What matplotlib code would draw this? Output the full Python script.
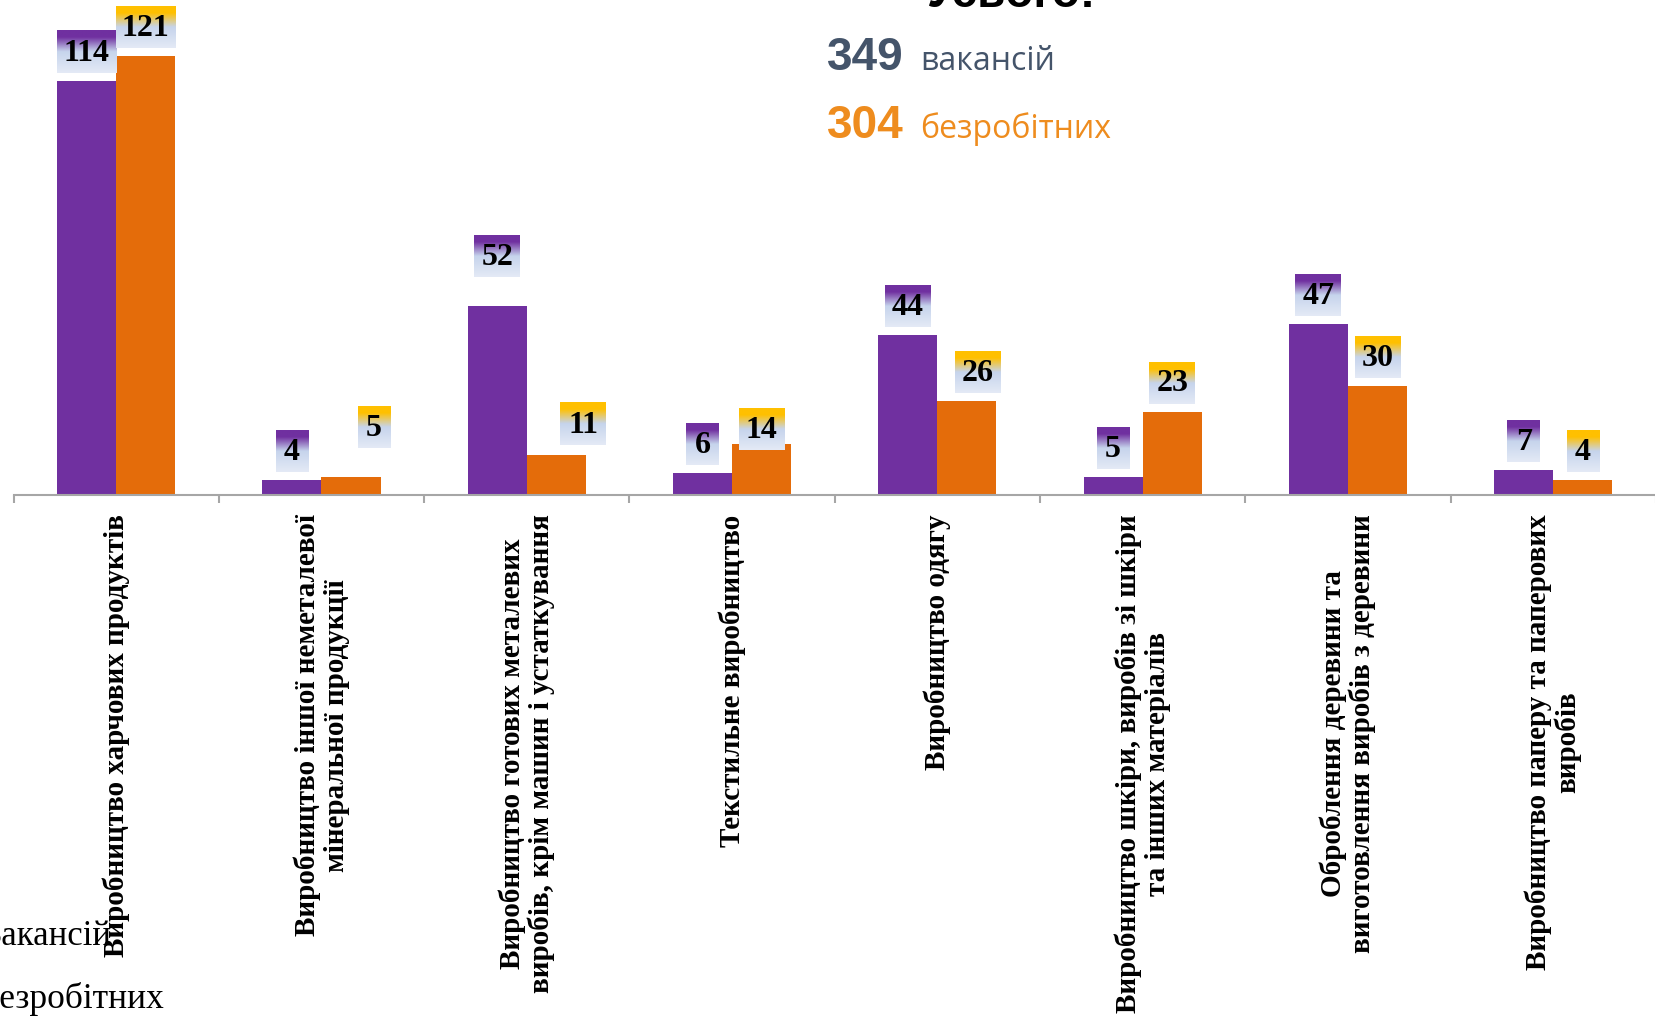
import numpy as np
import matplotlib
matplotlib.use("Agg")
import matplotlib.pyplot as plt
from matplotlib.colors import LinearSegmentedColormap

# ---------------- data ----------------
categories = [
    "Виробництво харчових продуктів",
    "Виробництво іншої неметалевої\nмінеральної продукції",
    "Виробництво готових металевих\nвиробів, крім машин і устаткування",
    "Текстильне виробництво",
    "Виробництво одягу",
    "Виробництво шкіри, виробів зі шкіри\nта інших матеріалів",
    "Оброблення деревини та\nвиготовлення виробів з деревини",
    "Виробництво паперу та паперових\nвиробів",
]
vacancies = [114, 4, 52, 6, 44, 5, 47, 7]
unemployed = [121, 5, 11, 14, 26, 23, 30, 4]
series_names = ["Вакансій", "Безробітних"]
total_title = "Усього:"
total_vacancies = 349
total_unemployed = 304
total_words = ["вакансій", "безробітних"]

# ---------------- layout ----------------
W, H = 1655, 1016
fig = plt.figure(figsize=(W / 100, H / 100), dpi=100)
base_y = 495          # pixel row of the x axis
left_px = 13.5
cat_px = 205.3
ax = fig.add_axes([left_px / W, 1 - base_y / H, 8 * cat_px / W, base_y / H])
px_per_unit = 3.63

purple = "#7030A0"
orange = "#E46C0A"
x = np.arange(len(categories))
bw = 0.288
ax.bar(x - bw / 2, vacancies, bw, color=purple, zorder=2)
ax.bar(x + bw / 2, unemployed, bw, color=orange, zorder=2)

# gradient label boxes
def make_cmap(top):
    return LinearSegmentedColormap.from_list(
        "g", [(0.0, top), (0.16, top), (0.5, "#C6D4EC"), (1.0, "#E4EAF6")])

cm_v = make_cmap(purple)
cm_u = make_cmap("#FFC000")
grad = np.linspace(0, 1, 200)

# individual label nudges (pixels: dx right, dy up) as placed in the original
nudge = {(0, 2): (0, 21), (1, 1): (23, 21), (1, 2): (27, 2),
         (1, 3): (0, -14), (1, 4): (11, 0)}

box_h = 42 / px_per_unit
gap = 8 / px_per_unit
for k, (series, offset, cm) in enumerate(((vacancies, -bw / 2, cm_v),
                                          (unemployed, bw / 2, cm_u))):
    img = cm(grad)[:, None, :]
    for i, v in enumerate(series):
        s = str(v)
        dx, dy = nudge.get((k, i), (0, 0))
        wpx = 19 + 13.5 * len(s)
        wd = wpx / cat_px
        c = i + offset + dx / cat_px
        b = v + gap + dy / px_per_unit
        ax.imshow(img, extent=(c - wd / 2, c + wd / 2, b, b + box_h),
                  aspect="auto", origin="upper", interpolation="bilinear",
                  zorder=3)
        ax.text(c, b + box_h / 2 - 0.4, s, ha="center", va="center",
                fontsize=23, fontweight="bold", family="Liberation Serif",
                zorder=4)

ax.set_ylim(0, base_y / px_per_unit)
ax.set_xlim(-0.5, len(categories) - 0.5)

# axes styling
for sp in ("top", "right", "left"):
    ax.spines[sp].set_visible(False)
ax.spines["bottom"].set_color("#A6A6A6")
ax.spines["bottom"].set_linewidth(1.5)
ax.set_yticks([])
ax.set_xticks(x)
ax.set_xticks(np.arange(-0.5, len(categories)), minor=True)
ax.tick_params(axis="x", which="major", length=0, pad=14)
ax.tick_params(axis="x", which="minor", length=6, width=1.5, color="#A6A6A6")
ax.set_xticklabels(categories, rotation=90, fontsize=21, fontweight="bold",
                   family="Liberation Serif", ha="center", va="top",
                   multialignment="center", linespacing=1.08)

# legend (cut at the left edge)
fig.text(-21 / W, 1 - 945 / H, series_names[0], fontsize=25,
         family="Liberation Serif", ha="left", va="baseline")
fig.text(-21 / W, 1 - 1008 / H, series_names[1], fontsize=25.5,
         family="Liberation Serif", ha="left", va="baseline")

# totals block (top)
slate = "#44546A"
gold = "#EE8C1E"
fig.text(927 / W, 1 - 7 / H, total_title, fontsize=33, fontweight="bold",
         family="Liberation Sans", color="black", ha="left", va="baseline")
fig.text(827 / W, 1 - 70 / H, str(total_vacancies), fontsize=33,
         fontweight="bold", family="Liberation Sans", color=slate,
         ha="left", va="baseline")
fig.text(920 / W, 1 - 70 / H, total_words[0], fontsize=23,
         family="Open Sans", color=slate, ha="left", va="baseline")
fig.text(827 / W, 1 - 138 / H, str(total_unemployed), fontsize=33,
         fontweight="bold", family="Liberation Sans", color=gold,
         ha="left", va="baseline")
fig.text(920 / W, 1 - 138 / H, total_words[1], fontsize=23,
         family="Open Sans", color=gold, ha="left", va="baseline")

fig.savefig("out.png", dpi=100)
